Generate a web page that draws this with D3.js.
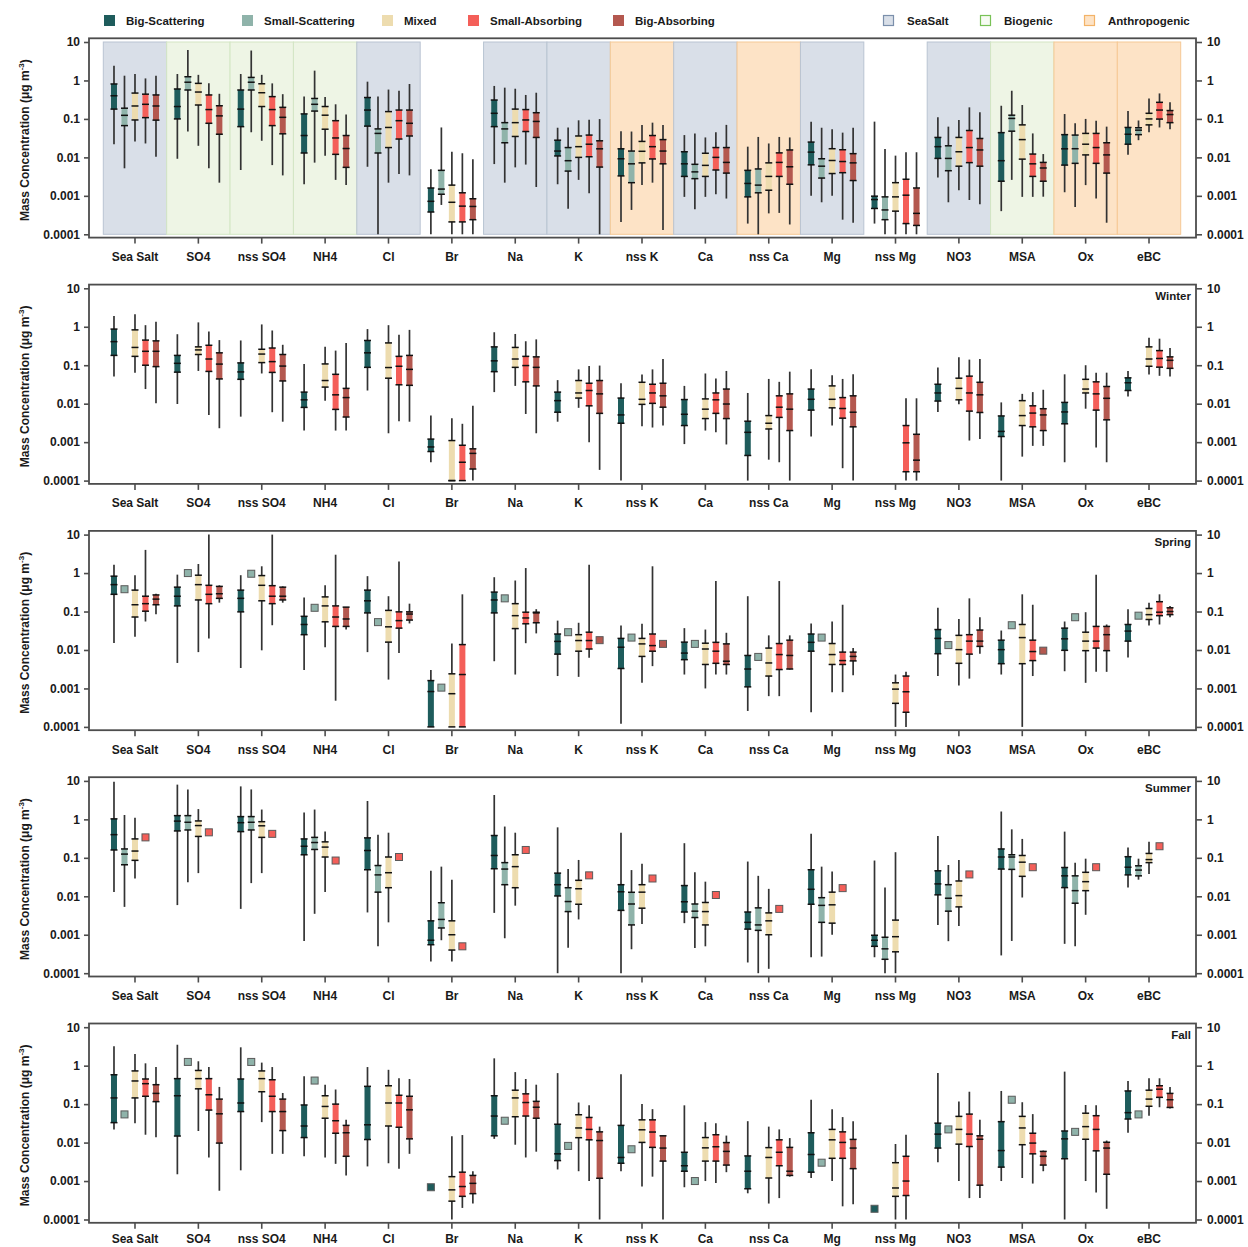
<!DOCTYPE html>
<html>
<head>
<meta charset="utf-8">
<script src="https://cdn.jsdelivr.net/npm/d3@7"></script>
<style>
  body { margin: 0; background: #fff; }
  svg { display: block; }
  text { font-family: "Liberation Sans", Arial, sans-serif; font-weight: bold; fill: #1a1a1a; }
</style>
</head>
<body>
<svg id="chart" width="1248" height="1247"></svg>
<script>
// ---- categories, classes, sources ----
const categories = ["Sea Salt","SO4","nss SO4","NH4","Cl","Br","Na","K","nss K","Ca","nss Ca","Mg","nss Mg","NO3","MSA","Ox","eBC"];
const classes = ["Big-Scattering","Small-Scattering","Mixed","Small-Absorbing","Big-Absorbing"];
const sourceTypes = ["SeaSalt","Biogenic","Anthropogenic"];
const categorySource = ["SeaSalt","Biogenic","Biogenic","Biogenic","SeaSalt",null,"SeaSalt","SeaSalt","Anthropogenic","SeaSalt","Anthropogenic","SeaSalt",null,"SeaSalt","Biogenic","Anthropogenic","Anthropogenic"];
const yTickValues = [0.0001, 0.001, 0.01, 0.1, 1, 10];
const seasonLabels = ["", "Winter", "Spring", "Summer", "Fall"];

// Each entry: [min, q1, median, q3, max], a single value, or null (no data)
// ---- Annual ----
const annualBigScattering = [[0.022,0.18,0.40,0.81,2.4],[0.0092,0.1,0.21,0.6,1.47],[0.0047,0.063,0.18,0.565,1.47],[0.002,0.013,0.037,0.135,0.38],[0.0057,0.065,0.17,0.36,0.93],[0.0001,0.00038,0.00072,0.0016,0.0049],[0.0067,0.063,0.14,0.31,0.72],[0.002,0.0109,0.0146,0.028,0.059],[0.00021,0.0033,0.0092,0.0167,0.048],[0.00094,0.0032,0.0068,0.014,0.038],[0.00019,0.00094,0.0021,0.0046,0.019],[0.001,0.0064,0.0137,0.025,0.085],[0.00019,0.00047,0.0008,0.00098,0.085],[0.003,0.0094,0.019,0.033,0.11],[0.0004,0.0024,0.0082,0.044,0.22],[0.00124,0.0063,0.0167,0.039,0.134],[0.0117,0.022,0.04,0.06,0.16]];
const annualSmallScattering = [[0.0052,0.067,0.124,0.19,1.33],[0.047,0.565,0.9,1.25,6.2],[0.045,0.565,0.9,1.2,6.0],[0.0073,0.16,0.24,0.34,1.8],[0.0001,0.013,0.042,0.055,0.38],[0.00058,0.0011,0.0015,0.0046,0.06],[0.0022,0.024,0.055,0.08,0.65],[0.00046,0.0044,0.0082,0.018,0.06],[0.00043,0.0022,0.0068,0.0146,0.047],[0.00045,0.0028,0.0042,0.0066,0.042],[0.0001,0.0012,0.0019,0.005,0.034],[0.00068,0.0029,0.0059,0.0092,0.059],[0.0001,0.00024,0.00043,0.00094,0.0165],[0.00068,0.0045,0.0094,0.02,0.063],[0.0026,0.048,0.103,0.125,0.54],[0.00051,0.007,0.0168,0.038,0.077],[0.028,0.039,0.051,0.059,0.091]];
const annualMixed = [[0.026,0.094,0.217,0.47,1.47],[0.02,0.23,0.5,0.84,1.4],[0.027,0.21,0.48,0.82,1.4],[0.011,0.054,0.125,0.21,0.37],[0.0022,0.018,0.06,0.155,0.58],[0.0001,0.00021,0.00068,0.0019,0.0141],[0.0055,0.035,0.08,0.18,0.61],[0.0026,0.01,0.019,0.036,0.092],[0.0019,0.0072,0.0144,0.026,0.07],[0.00094,0.0032,0.0062,0.0128,0.033],[0.00035,0.0014,0.0032,0.0072,0.023],[0.001,0.0038,0.0083,0.0168,0.054],[0.0001,0.0004,0.00094,0.0022,0.0111],[0.0014,0.0059,0.014,0.033,0.094],[0.00094,0.009,0.029,0.07,0.23],[0.0019,0.0116,0.022,0.042,0.1],[0.045,0.07,0.1,0.14,0.34]];
const annualSmallAbsorbing = [[0.023,0.108,0.24,0.44,1.13],[0.0052,0.077,0.175,0.42,0.84],[0.0063,0.067,0.175,0.38,0.84],[0.0026,0.012,0.032,0.09,0.24],[0.0037,0.03,0.09,0.17,0.54],[0.0001,0.00021,0.00054,0.0012,0.0128],[0.0065,0.047,0.094,0.175,0.42],[0.00116,0.0104,0.022,0.038,0.095],[0.0022,0.0091,0.019,0.037,0.08],[0.0011,0.0047,0.01,0.018,0.045],[0.00036,0.0032,0.0074,0.0131,0.034],[0.00024,0.004,0.0078,0.0158,0.044],[0.0001,0.00019,0.00104,0.0027,0.0136],[0.00078,0.0073,0.018,0.05,0.2],[0.00094,0.0032,0.0068,0.0122,0.042],[0.00085,0.007,0.018,0.042,0.089],[0.06,0.099,0.17,0.27,0.46]];
const annualBigAbsorbing = [[0.0104,0.093,0.217,0.42,1.33],[0.0022,0.04,0.12,0.22,0.45],[0.0034,0.041,0.11,0.2,0.44],[0.0019,0.0055,0.017,0.037,0.13],[0.0034,0.036,0.077,0.17,0.81],[0.0001,0.00024,0.00053,0.00084,0.0089],[0.0017,0.033,0.086,0.145,0.48],[0.0001,0.0056,0.0167,0.027,0.099],[0.00013,0.0068,0.0146,0.029,0.07],[0.00085,0.0039,0.0074,0.018,0.07],[0.00018,0.002,0.0057,0.0156,0.033],[0.0002,0.0025,0.0072,0.0125,0.059],[0.0001,0.00017,0.00035,0.0016,0.0136],[0.0006,0.0059,0.0156,0.031,0.15],[0.00095,0.0024,0.0053,0.0074,0.0122],[0.0002,0.0039,0.0116,0.024,0.063],[0.054,0.08,0.13,0.165,0.27]];

// ---- Winter ----
const winterBigScattering = [[0.051,0.18,0.41,0.87,1.9],[0.0098,0.066,0.112,0.18,0.64],[0.0046,0.043,0.067,0.115,0.44],[0.002,0.008,0.0126,0.02,0.107],[0.022,0.088,0.21,0.44,0.87],[0.0003,0.00057,0.00075,0.0012,0.0049],[0.02,0.068,0.13,0.3,0.72],[0.0034,0.006,0.012,0.02,0.041],[0.0001,0.0031,0.0051,0.014,0.034],[0.00089,0.0027,0.0053,0.0128,0.029],[0.0001,0.00045,0.0018,0.0035,0.019],[0.0014,0.0068,0.013,0.024,0.078],null,[0.0061,0.0117,0.019,0.032,0.087],[0.0001,0.0014,0.0019,0.0048,0.0108],[0.0003,0.003,0.0061,0.0108,0.058],[0.0153,0.022,0.035,0.047,0.071]];
const winterSmallScattering = [null,null,null,null,null,null,null,null,null,null,null,null,null,null,null,null,null];
const winterMixed = [[0.064,0.17,0.29,0.83,2.1],[0.071,0.19,0.25,0.3,1.3],[0.061,0.117,0.195,0.26,1.15],[0.012,0.027,0.04,0.108,0.3],[0.0017,0.046,0.087,0.38,1.1],[0.0001,0.0001,0.0001,0.0011,0.0042],[0.029,0.088,0.145,0.29,0.65],[0.0078,0.014,0.019,0.04,0.078],[0.0026,0.0096,0.013,0.036,0.057],[0.002,0.0041,0.0072,0.0133,0.061],[0.00035,0.0022,0.0031,0.0049,0.044],[0.0027,0.0078,0.013,0.029,0.055],null,[0.0097,0.0126,0.025,0.046,0.16],[0.00042,0.0027,0.0049,0.012,0.018],[0.0074,0.019,0.024,0.043,0.1],[0.057,0.094,0.145,0.3,0.52]];
const winterSmallAbsorbing = [[0.024,0.1,0.23,0.45,1.1],[0.0051,0.069,0.145,0.33,0.75],[0.006,0.065,0.124,0.28,0.8],[0.002,0.0071,0.017,0.058,0.24],[0.0035,0.031,0.094,0.17,0.62],[0.0001,0.0001,0.0003,0.00083,0.003],[0.0054,0.037,0.098,0.17,0.42],[0.001,0.0088,0.022,0.034,0.096],[0.0024,0.0102,0.019,0.032,0.078],[0.0018,0.0056,0.0126,0.019,0.045],[0.0003,0.0044,0.0081,0.016,0.037],[0.00021,0.0042,0.0075,0.0144,0.044],[0.0001,0.00017,0.00096,0.0027,0.0138],[0.0011,0.0064,0.019,0.052,0.14],[0.0008,0.0025,0.0057,0.0088,0.02],[0.00073,0.0068,0.018,0.037,0.064],[0.053,0.089,0.15,0.24,0.49]];
const winterBigAbsorbing = [[0.0102,0.092,0.23,0.43,1.35],[0.0023,0.044,0.107,0.21,0.45],[0.0034,0.039,0.095,0.19,0.34],[0.002,0.0045,0.0144,0.025,0.38],[0.0034,0.03,0.078,0.18,0.83],[0.0001,0.0002,0.00051,0.00067,0.0088],[0.0017,0.029,0.088,0.165,0.47],[0.00019,0.0056,0.018,0.04,0.098],[0.0027,0.0081,0.016,0.034,0.145],[0.00087,0.0041,0.0098,0.024,0.071],[0.0001,0.002,0.0072,0.018,0.068],[0.0001,0.0025,0.006,0.016,0.058],[0.0001,0.00017,0.00034,0.0016,0.0138],[0.0012,0.0059,0.017,0.036,0.145],[0.0008,0.002,0.0051,0.0074,0.023],[0.0003,0.0038,0.0138,0.028,0.064],[0.051,0.083,0.134,0.165,0.28]];

// ---- Spring ----
const springBigScattering = [[0.0152,0.28,0.5,0.83,1.65],[0.0046,0.14,0.25,0.43,0.91],[0.0034,0.098,0.22,0.36,0.88],[0.003,0.025,0.046,0.075,0.23],[0.0088,0.092,0.19,0.36,0.83],[0.0001,0.0001,0.00083,0.0016,0.003],[0.0051,0.092,0.2,0.32,0.78],[0.0021,0.0078,0.0167,0.026,0.058],[0.00012,0.0033,0.0118,0.02,0.043],[0.0023,0.0056,0.0083,0.016,0.037],[0.00026,0.0011,0.0032,0.0072,0.25],[0.00024,0.0093,0.0158,0.026,0.049],null,[0.0021,0.008,0.02,0.034,0.125],[0.0023,0.0044,0.0102,0.018,0.032],[0.0028,0.0098,0.0195,0.037,0.055],[0.0064,0.017,0.031,0.046,0.115]];
const springSmallScattering = [0.38,1.0,0.96,0.125,0.053,0.00105,0.22,0.029,0.021,0.0144,0.0066,0.021,null,0.0134,0.044,0.071,0.078];
const springMixed = [[0.022,0.072,0.15,0.36,0.88],[0.0088,0.2,0.5,0.88,1.72],[0.0098,0.19,0.48,0.86,1.5],[0.0118,0.054,0.14,0.24,0.48],[0.0017,0.016,0.04,0.107,0.25],[0.0001,0.0001,0.00073,0.0024,0.0147],[0.0023,0.036,0.078,0.16,0.64],[0.002,0.0093,0.0176,0.025,0.051],[0.0014,0.0068,0.0144,0.02,0.048],[0.001,0.0042,0.0106,0.015,0.034],[0.00063,0.0021,0.0046,0.0112,0.024],[0.0008,0.0042,0.0076,0.0147,0.055],[0.0001,0.00041,0.00096,0.0014,0.0023],[0.0012,0.0045,0.0102,0.024,0.064],[0.0001,0.0044,0.021,0.046,0.28],[0.0014,0.0096,0.017,0.029,0.096],[0.043,0.062,0.083,0.12,0.17]];
const springSmallAbsorbing = [[0.055,0.102,0.16,0.25,4.0],[0.02,0.16,0.28,0.48,10],[0.044,0.16,0.25,0.47,10],[0.00048,0.041,0.072,0.14,3.0],[0.0083,0.037,0.058,0.098,2.0],[0.0001,0.0001,0.0023,0.0138,0.28],[0.015,0.048,0.068,0.096,1.35],[0.0063,0.0106,0.0176,0.029,1.65],[0.0038,0.0093,0.013,0.026,1.5],[0.0023,0.0045,0.0093,0.0158,0.62],[0.00063,0.0031,0.0076,0.0147,0.62],[0.0008,0.0042,0.0053,0.0088,0.15],[0.0001,0.00024,0.00082,0.0021,0.0027],[0.0018,0.0078,0.017,0.025,0.22],[0.0021,0.0053,0.0091,0.018,0.15],[0.0027,0.0112,0.017,0.041,0.91],[0.046,0.078,0.096,0.18,0.28]];
const springBigAbsorbing = [[0.085,0.15,0.21,0.27,0.29],[0.17,0.22,0.29,0.45,0.48],[0.17,0.2,0.25,0.43,0.45],[0.034,0.041,0.064,0.13,0.13],[0.049,0.06,0.086,0.098,0.16],null,[0.027,0.051,0.092,0.096,0.115],0.018,0.0144,[0.0023,0.0042,0.0051,0.0144,0.028],[0.0031,0.0032,0.0072,0.018,0.024],[0.0022,0.0052,0.0068,0.0088,0.0112],null,[0.008,0.0124,0.017,0.033,0.071],0.0096,[0.0027,0.0096,0.025,0.041,0.046],[0.071,0.083,0.1,0.125,0.14]];

// ---- Summer ----
const summerBigScattering = [[0.013,0.16,0.4,1.03,9.5],[0.0059,0.5,0.9,1.25,8.0],[0.0047,0.48,0.82,1.18,7.2],[0.00069,0.12,0.2,0.31,1.5],[0.0038,0.049,0.155,0.33,3.0],[0.0002,0.00055,0.00072,0.0023,0.046],[0.0037,0.052,0.115,0.38,4.3],[0.0001,0.0102,0.02,0.04,0.62],[0.0001,0.0043,0.0131,0.02,0.45],[0.002,0.0039,0.0072,0.019,0.24],[0.00019,0.0014,0.0021,0.0039,0.08],[0.00026,0.0062,0.0152,0.049,0.42],[0.00026,0.0005,0.00072,0.00097,0.085],[0.0018,0.0109,0.021,0.046,0.37],[0.00029,0.051,0.105,0.17,1.6],[0.00058,0.0168,0.034,0.056,0.48],[0.0168,0.036,0.057,0.107,0.185]];
const summerSmallScattering = [[0.0053,0.066,0.125,0.17,1.3],[0.023,0.53,0.84,1.25,6.0],[0.022,0.53,0.84,1.18,6.0],[0.0035,0.165,0.25,0.34,1.8],[0.0005,0.0128,0.036,0.063,0.4],[0.00072,0.0015,0.0025,0.0068,0.059],[0.00081,0.02,0.051,0.075,0.65],[0.00046,0.004,0.0073,0.0167,0.051],[0.00042,0.0018,0.0063,0.0127,0.048],[0.00045,0.0028,0.0041,0.0063,0.042],[0.0001,0.0013,0.0018,0.005,0.034],[0.00027,0.0021,0.0058,0.0092,0.059],[0.0001,0.00023,0.00043,0.00086,0.017],[0.00068,0.0041,0.0089,0.02,0.065],[0.00069,0.05,0.105,0.12,0.55],[0.0005,0.0066,0.014,0.034,0.075],[0.027,0.034,0.048,0.062,0.095]];
const summerMixed = [[0.029,0.086,0.15,0.31,1.1],[0.04,0.36,0.69,0.91,1.85],[0.04,0.34,0.68,0.87,1.8],[0.013,0.105,0.19,0.26,0.48],[0.0021,0.0167,0.041,0.105,0.45],[0.0002,0.0004,0.001,0.0023,0.027],[0.0057,0.0167,0.059,0.12,0.45],[0.0025,0.0062,0.0157,0.026,0.088],[0.0019,0.0049,0.0128,0.02,0.07],[0.0005,0.0018,0.004,0.0069,0.024],[0.00013,0.001,0.0023,0.0037,0.0156],[0.001,0.002,0.006,0.0128,0.044],[0.0001,0.00036,0.00089,0.0024,0.14],[0.0017,0.0053,0.0104,0.025,0.088],[0.0093,0.033,0.077,0.115,0.31],[0.0033,0.014,0.024,0.042,0.095],[0.038,0.075,0.09,0.13,0.26]];
const summerSmallAbsorbing = [0.34,0.46,0.42,0.085,0.105,0.0005,0.16,0.035,0.029,0.0108,0.0047,0.0163,null,0.037,0.057,0.057,0.2];
const summerBigAbsorbing = [null,null,null,null,null,null,null,null,null,null,null,null,null,null,null,null,null];

// ---- Fall ----
const fallBigScattering = [[0.022,0.033,0.145,0.58,3.2],[0.0015,0.0148,0.165,0.46,3.5],[0.0019,0.064,0.107,0.45,3.0],[0.0044,0.0135,0.027,0.095,0.53],[0.0024,0.012,0.029,0.29,0.92],0.00069,[0.0125,0.015,0.049,0.165,1.55],[0.002,0.0034,0.0051,0.03,0.64],[0.0018,0.0029,0.0041,0.028,0.6],[0.00069,0.0018,0.0025,0.0056,0.093],[0.00048,0.00063,0.0018,0.0045,0.036],[0.0012,0.0017,0.0049,0.018,0.13],0.00019,[0.0031,0.0072,0.0166,0.032,0.64],[0.001,0.0023,0.0062,0.035,0.22],[0.0001,0.0038,0.0125,0.02,0.7],[0.018,0.041,0.06,0.22,0.4]];
const fallSmallScattering = [0.054,1.25,1.25,0.41,null,null,0.037,0.0082,0.0067,0.001,null,0.003,null,0.022,0.13,0.019,0.054];
const fallMixed = [[0.032,0.145,0.4,0.73,2.0],[0.02,0.25,0.46,0.75,1.3],[0.034,0.21,0.46,0.73,1.2],[0.0041,0.043,0.087,0.165,0.32],[0.0029,0.027,0.107,0.3,0.78],[0.0001,0.0003,0.00059,0.0013,0.0146],[0.0088,0.047,0.145,0.23,0.68],[0.0018,0.0134,0.024,0.053,0.11],[0.00072,0.0101,0.0215,0.039,0.1],[0.001,0.0033,0.0073,0.0135,0.034],[0.00026,0.0012,0.0041,0.0074,0.026],[0.001,0.0039,0.0118,0.022,0.074],[0.0001,0.0004,0.00066,0.003,0.0092],[0.001,0.0091,0.022,0.048,0.117],[0.0012,0.0088,0.024,0.048,0.112],[0.001,0.0122,0.026,0.058,0.095],[0.05,0.088,0.135,0.23,0.47]];
const fallSmallAbsorbing = [[0.016,0.16,0.34,0.45,1.15],[0.0041,0.07,0.175,0.46,0.92],[0.0051,0.064,0.16,0.43,0.92],[0.0028,0.0175,0.037,0.1,0.24],[0.0021,0.025,0.107,0.17,0.47],[0.0002,0.0004,0.00072,0.0017,0.0157],[0.0041,0.049,0.11,0.185,0.45],[0.001,0.0118,0.022,0.045,0.093],[0.0013,0.0075,0.0188,0.039,0.074],[0.00089,0.0033,0.0078,0.016,0.032],[0.00036,0.0025,0.0056,0.0118,0.022],[0.00022,0.0039,0.0101,0.019,0.046],[0.0001,0.00042,0.001,0.0044,0.016],[0.00036,0.0079,0.0166,0.055,0.21],[0.00086,0.0051,0.0097,0.0175,0.055],[0.0005,0.0061,0.022,0.05,0.093],[0.083,0.15,0.245,0.3,0.47]];
const fallBigAbsorbing = [[0.0138,0.116,0.19,0.32,0.92],[0.00056,0.0097,0.056,0.135,0.28],[0.0051,0.0205,0.064,0.135,0.195],[0.0014,0.0044,0.018,0.028,0.039],[0.0051,0.0125,0.071,0.16,0.45],[0.00026,0.00047,0.00087,0.0014,0.0018],[0.0058,0.043,0.083,0.118,0.32],[0.0001,0.00118,0.0113,0.019,0.026],[0.0001,0.0033,0.0072,0.015,0.015],[0.0017,0.0026,0.0059,0.01,0.0152],[0.0013,0.0014,0.0018,0.0075,0.0131],[0.00025,0.0021,0.0072,0.0121,0.036],null,[0.00036,0.00078,0.0122,0.015,0.039],[0.0018,0.0026,0.0044,0.0059,0.0062],[0.00019,0.0015,0.0072,0.0102,0.0113],[0.077,0.082,0.13,0.19,0.28]];

// ---- assemble panels ----
const panels = [
  { label: seasonLabels[0], shaded: true,  series: [annualBigScattering, annualSmallScattering, annualMixed, annualSmallAbsorbing, annualBigAbsorbing] },
  { label: seasonLabels[1], shaded: false, series: [winterBigScattering, winterSmallScattering, winterMixed, winterSmallAbsorbing, winterBigAbsorbing] },
  { label: seasonLabels[2], shaded: false, series: [springBigScattering, springSmallScattering, springMixed, springSmallAbsorbing, springBigAbsorbing] },
  { label: seasonLabels[3], shaded: false, series: [summerBigScattering, summerSmallScattering, summerMixed, summerSmallAbsorbing, summerBigAbsorbing] },
  { label: seasonLabels[4], shaded: false, series: [fallBigScattering, fallSmallScattering, fallMixed, fallSmallAbsorbing, fallBigAbsorbing] }
];

// ---- styles ----
const classColor = d3.scaleOrdinal().domain(classes).range(["#1e5c5c", "#8fb3aa", "#eddcaf", "#f45f59", "#b4584f"]);
const sourceFill = d3.scaleOrdinal().domain(sourceTypes).range(["#d9dfe8", "#eef5e5", "#fde3c6"]);
const sourceEdge = d3.scaleOrdinal().domain(sourceTypes).range(["#b9c4d2", "#d3e6c4", "#f6c995"]);
const legendEdge = d3.scaleOrdinal().domain(sourceTypes).range(["#7b8fab", "#79c257", "#f3b368"]);

// ---- layout ----
const frameLeft = 89, frameRight = 1196;
const plotTop0 = 42, plotHeight = 192.3, panelStep = 246.3;
const boxWidth = 6, pointSize = 7;

const svg = d3.select("#chart");

const x = d3.scaleBand().domain(categories).range([103.3, 1180.7]).padding(0);
const offset = d3.scalePoint().domain(classes).range([-21, 21]);
const cx = (c) => x(c) + x.bandwidth() / 2;

panels.forEach((panel, p) => {
  const top = plotTop0 + p * panelStep;
  const bottom = top + plotHeight;
  const y = d3.scaleLog().domain([1e-4, 10]).range([bottom, top]);
  const g = svg.append("g");
  const isLast = p === panels.length - 1;

  // source-type background bands
  if (panel.shaded) {
    g.selectAll("rect.band")
      .data(categories.filter((c, i) => categorySource[i]))
      .join("rect")
      .attr("x", c => x(c))
      .attr("y", y(10))
      .attr("width", x.bandwidth())
      .attr("height", y(1e-4) - y(10))
      .attr("fill", c => sourceFill(categorySource[categories.indexOf(c)]))
      .attr("stroke", c => sourceEdge(categorySource[categories.indexOf(c)]))
      .attr("stroke-width", 1);
  }

  // frame
  g.append("rect")
    .attr("x", frameLeft).attr("y", top - 3.7)
    .attr("width", frameRight - frameLeft).attr("height", plotHeight + 7)
    .attr("fill", "none").attr("stroke", "#4d4d4d").attr("stroke-width", 1.8);

  // axes
  const fmt = d => String(d);
  const left = g.append("g").attr("transform", `translate(${frameLeft},0)`)
    .call(d3.axisLeft(y).tickValues(yTickValues).tickFormat(fmt).tickSize(5).tickPadding(4));
  const right = g.append("g").attr("transform", `translate(${frameRight},0)`)
    .call(d3.axisRight(y).tickValues(yTickValues).tickFormat(fmt).tickSize(6).tickPadding(5));
  const bottomAxis = g.append("g").attr("transform", `translate(0,${bottom + 3.3})`)
    .call(d3.axisBottom(x).tickSize(6).tickPadding(isLast ? 5.5 : 9));
  [left, right, bottomAxis].forEach(a => {
    a.select(".domain").remove();
    a.selectAll(".tick line").attr("stroke", "#4d4d4d").attr("stroke-width", 1.6);
    a.selectAll(".tick text").attr("font-size", 12).attr("fill", "#1a1a1a");
  });

  // y-axis title
  const title = g.append("text")
    .attr("transform", `translate(29,${(top + bottom) / 2 + 2}) rotate(-90)`)
    .attr("text-anchor", "middle")
    .attr("font-size", 12);
  title.append("tspan").text("Mass Concentration (μg m");
  title.append("tspan").attr("font-size", 8).attr("dy", -5).text("-3");
  title.append("tspan").attr("dy", 5).text(")");

  // season label
  if (panel.label) {
    g.append("text").attr("x", frameRight - 5).attr("y", top + 11.5)
      .attr("text-anchor", "end").attr("font-size", 11.5).text(panel.label);
  }

  // marks
  panel.series.forEach((values, k) => {
    const cls = classes[k];
    const color = classColor(cls);
    values.forEach((v, i) => {
      if (v === null) return;
      const xc = cx(categories[i]) + offset(cls);
      if (typeof v === "number") {
        g.append("rect")
          .attr("x", xc - pointSize / 2).attr("y", y(v) - pointSize / 2)
          .attr("width", pointSize).attr("height", pointSize)
          .attr("fill", color).attr("stroke", "#5a5a5a").attr("stroke-width", 1);
        return;
      }
      const [mn, q1, med, q3, mx] = v;
      g.append("line")
        .attr("x1", xc).attr("x2", xc).attr("y1", y(mx)).attr("y2", y(mn))
        .attr("stroke", "#333").attr("stroke-width", 1.7);
      g.append("rect")
        .attr("x", xc - boxWidth / 2).attr("y", y(q3))
        .attr("width", boxWidth).attr("height", Math.max(0.5, y(q1) - y(q3)))
        .attr("fill", color);
      [q1, med, q3].forEach(q => {
        g.append("line")
          .attr("x1", xc - boxWidth / 2 - 0.5).attr("x2", xc + boxWidth / 2 + 0.5)
          .attr("y1", y(q)).attr("y2", y(q))
          .attr("stroke", "#111").attr("stroke-width", 1.5);
      });
    });
  });
});

// ---- legend ----
const legend = svg.append("g");
const classLegendX = [104, 242, 382, 468, 613];
classes.forEach((c, i) => {
  legend.append("rect").attr("x", classLegendX[i]).attr("y", 15).attr("width", 11).attr("height", 11)
    .attr("fill", classColor(c));
  legend.append("text").attr("x", classLegendX[i] + 22).attr("y", 24.5).attr("font-size", 11.5).text(c);
});
const sourceLegendX = [883, 980, 1084];
sourceTypes.forEach((s, i) => {
  legend.append("rect").attr("x", sourceLegendX[i] + 0.5).attr("y", 15.5).attr("width", 10).attr("height", 10)
    .attr("fill", s === "Biogenic" ? "#f7fbf3" : sourceFill(s)).attr("stroke", legendEdge(s)).attr("stroke-width", 1.2);
  legend.append("text").attr("x", sourceLegendX[i] + 24).attr("y", 24.5).attr("font-size", 11.5).text(s);
});
</script>
</body>
</html>
